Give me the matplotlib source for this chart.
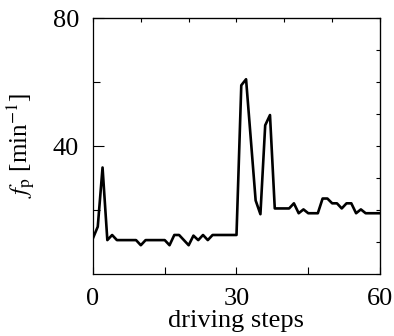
import numpy as np
import matplotlib.pyplot as plt

plt.rcParams['font.family'] = ['Liberation Serif', 'DejaVu Serif']
plt.rcParams['mathtext.fontset'] = 'stix'

steps = np.arange(0, 61)
fp = [11.2, 14.8, 33.3, 10.6, 12.2, 10.6, 10.6, 10.6, 10.6, 10.6,
      9.0, 10.6, 10.6, 10.6, 10.6, 10.6, 9.0, 12.2, 12.2, 10.6,
      9.0, 12.0, 10.6, 12.2, 10.6, 12.2, 12.2, 12.2, 12.2, 12.2,
      12.2, 59.0, 60.9, 42.0, 23.0, 18.7, 46.5, 49.7, 20.5, 20.5,
      20.5, 20.5, 22.1, 19.0, 20.2, 19.0, 19.0, 19.0, 23.6, 23.6,
      22.1, 22.1, 20.5, 22.1, 22.1, 19.0, 20.2, 19.0, 19.0, 19.0,
      19.0]

xticks = [0, 15, 30, 45, 60]
xlabels = ['0', '', '30', '', '60']
yticks = [40, 80]
yminor = [20, 60]

fig = plt.figure(figsize=(3.94, 3.36), dpi=100)
ax = fig.add_axes([0.236, 0.1845, 0.7285, 0.7615])
ax.plot(steps, fp, color='black', lw=1.9)
ax.set_xlim(0, 60)
ax.set_ylim(0, 80)

ax.set_xticks(xticks)
ax.set_xticklabels(xlabels)
ax.set_yticks(yticks)
ax.set_yticks(yminor, minor=True)
ax.tick_params(axis='x', direction='in', length=5, width=0.8, labelsize=19, pad=10)
ax.tick_params(axis='y', which='major', direction='in', length=8, width=0.8, labelsize=19, pad=10)
ax.tick_params(axis='y', which='minor', direction='in', length=5, width=0.8)
for s in ax.spines.values():
    s.set_linewidth(0.9)

top = ax.secondary_xaxis('top')
top.set_xticks(np.arange(0, 61, 10))
top.tick_params(direction='in', length=3, width=0.8, labeltop=False)
right = ax.secondary_yaxis('right')
right.set_yticks(np.arange(0, 81, 10))
right.tick_params(direction='in', length=3, width=0.8, labelright=False)

ax.set_xlabel('driving steps', fontsize=19, labelpad=0)
ax.set_ylabel(r'$f_{\rm p}$ [min$^{-1}$]', fontsize=18, labelpad=11)

fig.savefig('out.png', dpi=100)
